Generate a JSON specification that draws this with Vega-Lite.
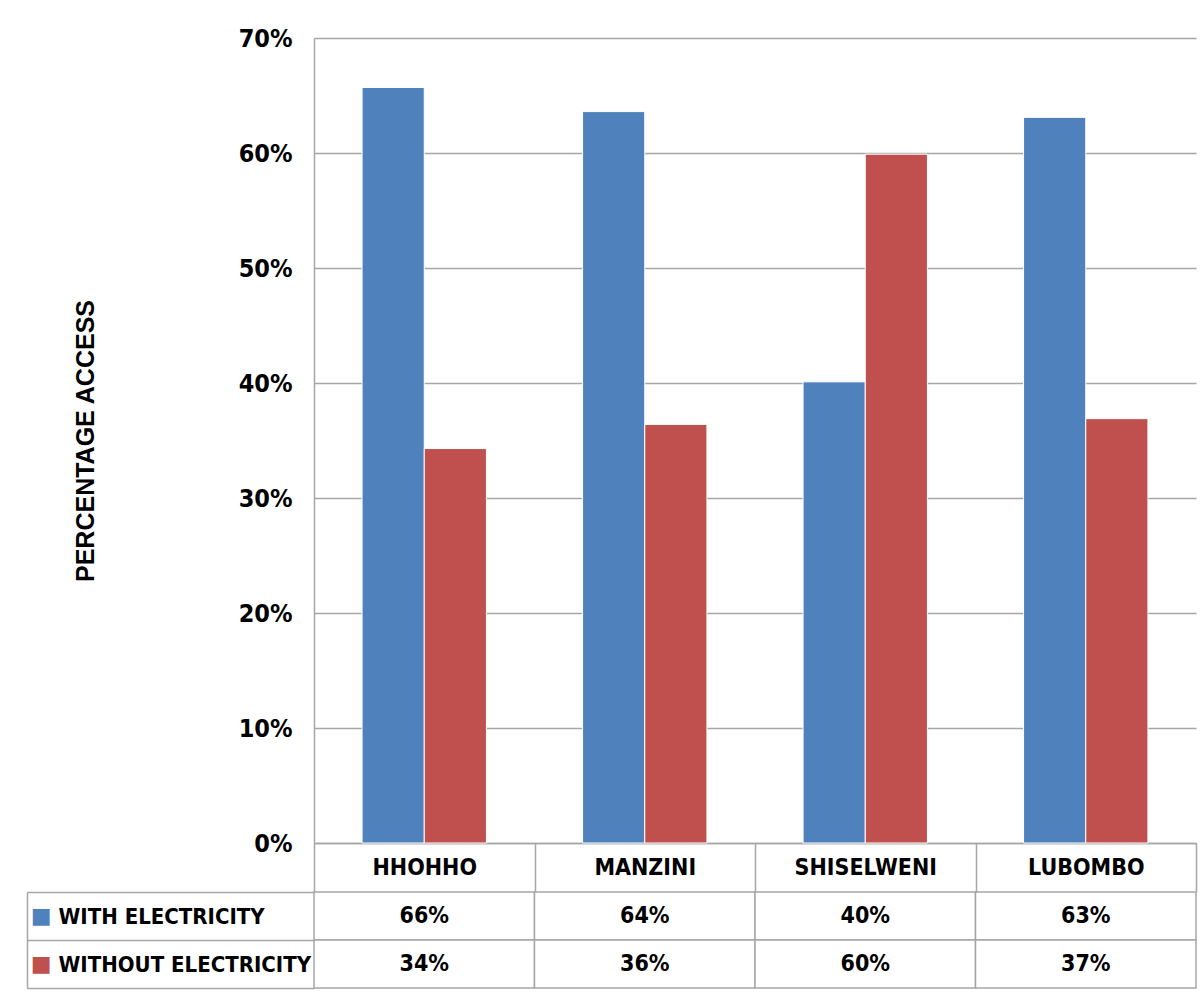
{
  "$schema": "https://vega.github.io/schema/vega-lite/v6.json",
  "background": "white",
  "padding": {"left": 26, "top": 26, "right": 5, "bottom": 5},
  "bounds": "flush",
  "spacing": 49,
  "datasets": {
    "d": [
      {"region": "HHOHHO", "series": "WITH ELECTRICITY", "value": 0.657},
      {"region": "MANZINI", "series": "WITH ELECTRICITY", "value": 0.636},
      {"region": "SHISELWENI", "series": "WITH ELECTRICITY", "value": 0.401},
      {"region": "LUBOMBO", "series": "WITH ELECTRICITY", "value": 0.631},
      {"region": "HHOHHO", "series": "WITHOUT ELECTRICITY", "value": 0.343},
      {"region": "MANZINI", "series": "WITHOUT ELECTRICITY", "value": 0.364},
      {"region": "SHISELWENI", "series": "WITHOUT ELECTRICITY", "value": 0.599},
      {"region": "LUBOMBO", "series": "WITHOUT ELECTRICITY", "value": 0.369}
    ]
  },
  "data": {"name": "d"},
  "config": {
    "view": {"stroke": null},
    "font": "Liberation Sans"
  },
  "vconcat": [
    {
      "width": 882,
      "height": 805,
      "mark": {"type": "bar", "stroke": "white", "strokeWidth": 1},
      "encoding": {
        "x": {
          "field": "region", "type": "nominal",
          "sort": ["HHOHHO", "MANZINI", "SHISELWENI", "LUBOMBO"],
          "scale": {"paddingInner": 0.436, "paddingOuter": 0.218},
          "axis": {
            "title": null, "orient": "bottom",
            "labels": false, "ticks": false, "tickSize": 0,
            "domainColor": "#a6a6a6", "domainWidth": 1.5
          }
        },
        "xOffset": {
          "field": "series", "type": "nominal",
          "sort": ["WITH ELECTRICITY", "WITHOUT ELECTRICITY"],
          "scale": {"paddingInner": 0, "paddingOuter": 0}
        },
        "y": {
          "field": "value", "type": "quantitative",
          "scale": {"domain": [0, 0.7]},
          "axis": {
            "title": "PERCENTAGE ACCESS",
            "format": ".0%",
            "values": [0, 0.1, 0.2, 0.3, 0.4, 0.5, 0.6, 0.7],
            "grid": true, "gridColor": "#a6a6a6", "gridWidth": 1.5,
            "ticks": false, "tickSize": 0,
            "domainColor": "#a6a6a6", "domainWidth": 1.5,
            "labelPadding": 22,
            "labelFont": "Liberation Sans Narrow, DejaVu Sans Condensed, sans-serif",
            "labelFontWeight": "bold", "labelFontSize": 25, "labelColor": "black",
            "titlePadding": 140,
            "titleFont": "Liberation Sans", "titleFontSize": 25, "titleFontWeight": "bold", "titleColor": "black"
          }
        },
        "color": {
          "field": "series", "type": "nominal",
          "scale": {"domain": ["WITH ELECTRICITY", "WITHOUT ELECTRICITY"], "range": ["#4f81bd", "#c0504d"]},
          "legend": null
        }
      }
    },
    {
      "width": 882,
      "height": 96,
      "layer": [
        {
          "mark": {"type": "rect", "fill": "white", "stroke": "#a6a6a6", "strokeWidth": 1.5},
          "encoding": {
            "x": {
              "field": "region", "type": "nominal",
              "sort": ["HHOHHO", "MANZINI", "SHISELWENI", "LUBOMBO"],
              "scale": {"paddingInner": 0, "paddingOuter": 0},
              "axis": {
                "title": null, "orient": "top", "labelAngle": 0, "domain": false,
                "tickBand": "extent", "tickSize": 49, "tickColor": "#a6a6a6", "tickWidth": 1.5,
                "labelPadding": -24.5, "labelBaseline": "middle", "labelLimit": 0,
                "labelFont": "Liberation Sans Narrow, DejaVu Sans Condensed, sans-serif",
                "labelFontWeight": "bold", "labelFontSize": 23, "labelColor": "black"
              }
            },
            "y": {
              "field": "series", "type": "nominal",
              "sort": ["WITH ELECTRICITY", "WITHOUT ELECTRICITY"],
              "scale": {"paddingInner": 0, "paddingOuter": 0},
              "axis": {
                "title": null, "orient": "left", "domain": false,
                "tickBand": "extent", "tickSize": 287, "tickColor": "#a6a6a6", "tickWidth": 1.5,
                "labelAlign": "left", "labelPadding": -31, "labelBaseline": "middle", "labelLimit": 0,
                "labelFont": "Liberation Sans Narrow, DejaVu Sans Condensed, sans-serif",
                "labelFontWeight": "bold", "labelFontSize": 22, "labelColor": "black"
              }
            }
          }
        },
        {
          "mark": {
            "type": "text",
            "font": "Liberation Sans Narrow, DejaVu Sans Condensed, sans-serif",
            "fontWeight": "bold", "fontSize": 23, "color": "black"
          },
          "encoding": {
            "x": {
              "field": "region", "type": "nominal",
              "sort": ["HHOHHO", "MANZINI", "SHISELWENI", "LUBOMBO"]
            },
            "y": {
              "field": "series", "type": "nominal",
              "sort": ["WITH ELECTRICITY", "WITHOUT ELECTRICITY"],
              "axis": {
                "title": null, "orient": "left", "offset": 287,
                "domain": true, "domainColor": "#a6a6a6", "domainWidth": 1.5,
                "ticks": false, "tickSize": 0,
                "labelExpr": "'■'",
                "labelFont": "DejaVu Sans", "labelFontSize": 22,
                "labelAlign": "right", "labelPadding": -24, "labelBaseline": "middle",
                "labelColor": {"condition": {"test": "datum.value === 'WITH ELECTRICITY'", "value": "#4f81bd"}, "value": "#c0504d"}
              }
            },
            "text": {"field": "value", "type": "quantitative", "format": ".0%"}
          }
        }
      ],
      "resolve": {"axis": {"y": "independent"}}
    }
  ]
}
